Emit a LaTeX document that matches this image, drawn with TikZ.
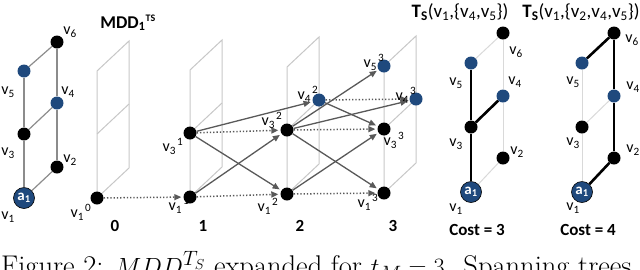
\documentclass[tikz,border=0pt]{standalone}
\usepackage{fontspec}
\newfontfamily\calib{Carlito}
\usetikzlibrary{arrows.meta}
\definecolor{agentblue}{RGB}{31,73,125}
\definecolor{arrgray}{RGB}{89,89,89}

\begin{document}
\begin{tikzpicture}[x=1pt, y=-1pt, font=\calib\fontsize{16}{18}\selectfont, >={Triangle[length=7pt,width=6pt]},
  dot/.style={circle, fill=black, inner sep=0pt, minimum size=13pt},
  goal/.style={dot, fill=agentblue},
  agent/.style={circle, fill=agentblue, draw=black, line width=0.6pt, inner sep=0pt, minimum size=21pt, text=white, font=\calib\fontsize{15}{16}\selectfont\bfseries},
  lbl/.style={inner sep=0pt},
  head/.style={inner sep=0pt, font=\calib\fontsize{17}{18}\selectfont\bfseries},
  edge/.style={draw=black!45, line width=1.2pt},
  frame/.style={draw=black!22, line width=1pt},
  move/.style={->, draw=arrgray, line width=1.3pt, shorten >=2pt},
  wait/.style={move, dotted, line width=1.5pt},
  tree/.style={draw=black, line width=2.6pt},
  faint/.style={draw=black!15, line width=1pt}]
\clip (0,0) rectangle (640,269);

\node[agent] (g1) at (24,198) {a\textsubscript{1}};
\node[dot] (g2) at (57,167) {};
\node[dot] (g3) at (24,134) {};
\node[goal] (g4) at (57,103) {};
\node[goal] (g5) at (24,71) {};
\node[dot] (g6) at (57,42) {};
\foreach \a/\b in {g1/g3, g3/g5, g2/g4, g4/g6, g1/g2, g3/g4, g5/g6} \draw[edge] (\a) -- (\b);

\foreach \x/\y in {97/198, 190/197, 287/194, 384/193} {
  \draw[frame] (\x,\y) -- (\x,\y-127) -- (\x+32,\y-157) -- (\x+32,\y-30) -- cycle;
  \draw[frame] (\x,\y-64) -- (\x+32,\y-94);
}
\node[dot] (m10) at (97,198) {};
\node[dot] (m11) at (190,197) {};
\node[dot] (m31) at (190,133) {};
\node[dot] (m12) at (287,194) {};
\node[dot] (m32) at (287,130) {};
\node[goal] (m42) at (319,100) {};
\node[dot] (m13) at (384,193) {};
\node[dot] (m33) at (384,129) {};
\node[goal] (m43) at (416,99) {};
\node[goal] (m53) at (384,66) {};
\foreach \a/\b in {m10/m11, m11/m12, m31/m32, m12/m13, m32/m33, m42/m43} \draw[wait] (\a) -- (\b);
\foreach \a/\b in {m11/m32, m31/m12, m31/m42, m32/m53, m32/m43, m32/m13, m12/m33, m42/m33} \draw[move] (\a) -- (\b);

\foreach \t/\x in {1/471, 2/582} {
  \node[agent] (t\t-1) at (\x,192) {a\textsubscript{1}};
  \node[dot] (t\t-2) at (\x+32,158) {};
  \node[dot] (t\t-3) at (\x,127) {};
  \node[goal] (t\t-4) at (\x+32,96) {};
  \node[goal] (t\t-5) at (\x,63) {};
  \node[dot] (t\t-6) at (\x+32,33) {};
}
\foreach \a/\b in {5/6, 6/4, 4/2, 2/1} \draw[faint] (t1-\a) -- (t1-\b);
\foreach \a/\b in {1/3, 3/5, 3/4} \draw[tree] (t1-\a) -- (t1-\b);
\foreach \a/\b in {1/3, 3/5, 3/4} \draw[faint] (t2-\a) -- (t2-\b);
\foreach \a/\b in {1/2, 2/4, 4/6, 6/5} \draw[tree] (t2-\a) -- (t2-\b);

\foreach \n/\x/\y/\t in {
  lg6/70/32/v\textsubscript{6}, lg5/8/92/v\textsubscript{5}, lg4/68/92/v\textsubscript{4},
  lg3/8/153/v\textsubscript{3}, lg2/70/160/v\textsubscript{2}, lg1/8/217/v\textsubscript{1},
  lm10/81/212/v\textsubscript{1}\kern1pt\textsuperscript{0},
  lm11/179/205/v\textsubscript{1}\kern1pt\textsuperscript{1},
  lm31/173/146/v\textsubscript{3}\kern1pt\textsuperscript{1},
  lm12/268/206/v\textsubscript{1}\kern1pt\textsuperscript{2},
  lm32/272/120/v\textsubscript{3}\kern1pt\textsuperscript{2},
  lm42/308/94/v\textsubscript{4}\kern1pt\textsuperscript{2},
  lm13/368/202/v\textsubscript{1}\kern1pt\textsuperscript{3},
  lm33/394/140/v\textsubscript{3}\kern1pt\textsuperscript{3},
  lm43/406/95/v\textsubscript{4}\kern1pt\textsuperscript{3},
  lm53/374/62/v\textsubscript{5}\kern1pt\textsuperscript{3},
  la6/516/52/v\textsubscript{6}, la5/456/83/v\textsubscript{5}, la4/515/82/v\textsubscript{4},
  la3/456/144/v\textsubscript{3}, la2/517/152/v\textsubscript{2}, la1/456/209/v\textsubscript{1},
  lb6/632/40/v\textsubscript{6}, lb5/573/82/v\textsubscript{5}, lb4/633/87/v\textsubscript{4},
  lb3/573/143/v\textsubscript{3}, lb2/633/150/v\textsubscript{2}, lb1/573/208/v\textsubscript{1}}
  \node[lbl] (\n) at (\x,\y) {\t};

\node[head, font=\calib\fontsize{18}{18}\selectfont\bfseries] (mdd) at (128,23) {MDD\textsubscript{1}\textsuperscript{\fontsize{10}{10}\selectfont TS}};
\foreach \k/\x in {0/115, 1/203, 2/300, 3/393} \node[head] (time\k) at (\x,226) {\k};
\node[lbl, font=\calib\fontsize{19}{20}\selectfont] (title1) at (460,12) {\textbf{T\textsubscript{S}}(v\textsubscript{1},\{v\textsubscript{4},v\textsubscript{5}\})};
\node[lbl, font=\calib\fontsize{19}{20}\selectfont] (title2) at (581,12) {\textbf{T\textsubscript{S}}(v\textsubscript{1},\{v\textsubscript{2},v\textsubscript{4},v\textsubscript{5}\})};
\node[head] (cost1) at (477,230) {Cost = 3};
\node[head] (cost2) at (588,230) {Cost = 4};

\node[anchor=base west, inner sep=0pt, font=\fontsize{28.5}{30}\selectfont] (caption) at (1,275)
  {Figure 2: $MDD^{T_S}$ expanded for $t_M = 3$. Spanning trees};
\end{tikzpicture}
\end{document}
